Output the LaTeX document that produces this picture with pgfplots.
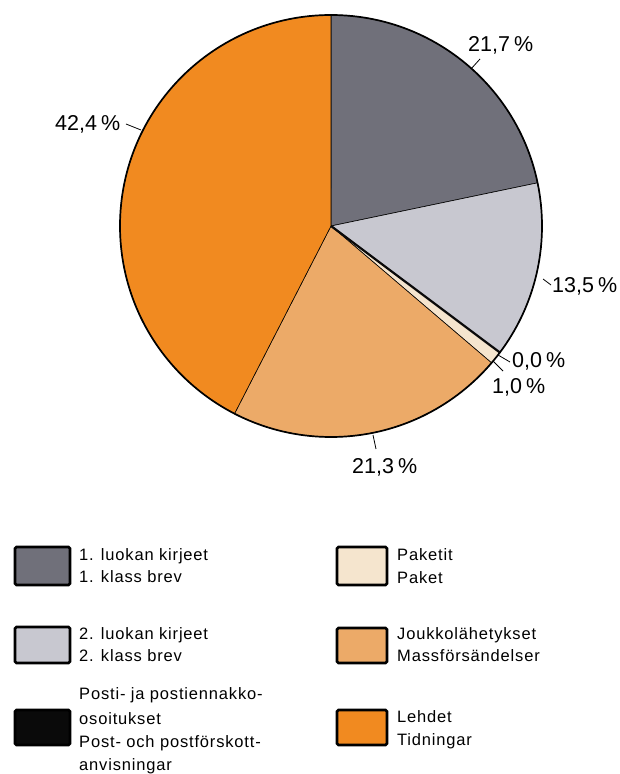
\documentclass[border=0pt]{standalone}
\usepackage{pgfplots}
\pgfplotsset{compat=1.18}
\usepackage{fontspec}
\setmainfont{Liberation Sans}
\newfontfamily\legfont[LetterSpace=5]{Liberation Sans}
\definecolor{cA}{RGB}{112,112,122}
\definecolor{cB}{RGB}{200,200,208}
\definecolor{cC}{RGB}{10,10,10}
\definecolor{cD}{RGB}{245,229,206}
\definecolor{cE}{RGB}{236,170,104}
\definecolor{cF}{RGB}{241,138,32}
\newcommand{\pc}{\hspace{4pt}\%}
\begin{document}
\begin{tikzpicture}[x=1pt,y=1pt]
\path[use as bounding box] (0,0) rectangle (620,774);
% shares in percent (1. luokka, 2. luokka, osoitukset, paketit, joukkol., lehdet)
\def\total{99.9}
\pgfmathsetmacro\aA{90}
\pgfmathsetmacro\aB{\aA-21.7/\total*360}
\pgfmathsetmacro\aC{\aB-13.5/\total*360}
\pgfmathsetmacro\aD{\aC-0.0/\total*360}
\pgfmathsetmacro\aE{\aD-1.0/\total*360}
\pgfmathsetmacro\aF{\aE-21.3/\total*360}
\pgfmathsetmacro\aG{\aF-42.4/\total*360}
\begin{axis}[at={(331pt,548pt)}, anchor=origin, x=211pt, y=211pt,
  xmin=-1, xmax=1, ymin=-1, ymax=1, hide axis, clip=false]
\addplot[fill=cA, draw=black, line width=0.6pt, domain=\aB:\aA, samples=90, variable=\t] ({cos(\t)},{sin(\t)}) -- (axis cs:0,0) -- cycle;
\addplot[fill=cB, draw=black, line width=0.6pt, domain=\aC:\aB, samples=60, variable=\t] ({cos(\t)},{sin(\t)}) -- (axis cs:0,0) -- cycle;
\addplot[fill=cD, draw=black, line width=0.6pt, domain=\aE:\aD, samples=10, variable=\t] ({cos(\t)},{sin(\t)}) -- (axis cs:0,0) -- cycle;
\addplot[fill=cE, draw=black, line width=0.6pt, domain=\aF:\aE, samples=90, variable=\t] ({cos(\t)},{sin(\t)}) -- (axis cs:0,0) -- cycle;
\addplot[fill=cF, draw=black, line width=0.6pt, domain=\aG:\aF, samples=150, variable=\t] ({cos(\t)},{sin(\t)}) -- (axis cs:0,0) -- cycle;
\addplot[cC, line width=2.2pt, domain=0:1, samples=2] ({x*cos(\aC)},{x*sin(\aC)});
\draw[line width=1.7pt] (axis cs:0,0) circle[radius=211pt];
\end{axis}
% labels
\begin{scope}[every node/.style={inner sep=0pt, font=\fontsize{21.5}{26}\selectfont}]
\node[anchor=base west] at (468,774-52) {21,7\pc};
\node[anchor=base west] at (55,774-131) {42,4\pc};
\node[anchor=base west] at (552,774-293) {13,5\pc};
\node[anchor=base west] at (512,774-368) {0,0\pc};
\node[anchor=base west] at (492,774-394) {1,0\pc};
\node[anchor=base west] at (352,774-474) {21,3\pc};
\end{scope}
\begin{scope}[line width=0.8pt]
\draw (480,774-59) -- (471,774-69);
\draw (126,774-124) -- (141,774-130);
\draw (543,774-279) -- (551,774-285);
\draw (373,774-435) -- (376,774-449);
\draw (498,774-355) -- (510,774-362);
\draw (493,774-361) -- (503,774-371);
\end{scope}
% legend
\begin{scope}[line width=2.6pt, rounded corners=1.5pt]
\filldraw[fill=cA] (15,774-547) rectangle (70,774-585);
\filldraw[fill=cB] (15,774-627) rectangle (70,774-663);
\filldraw[fill=cC] (15,774-710) rectangle (70,774-745);
\filldraw[fill=cD] (337,774-547) rectangle (387,774-585);
\filldraw[fill=cE] (337,774-628) rectangle (387,774-663);
\filldraw[fill=cF] (337,774-710) rectangle (387,774-745);
\end{scope}
\begin{scope}[every node/.style={inner sep=0pt, anchor=base west, font=\legfont\fontsize{16.5}{20}\selectfont}]
\node at (79,774-561) {1. luokan kirjeet};
\node at (79,774-583) {1. klass brev};
\node at (79,774-640) {2. luokan kirjeet};
\node at (79,774-662) {2. klass brev};
\node at (79,774-700) {Posti- ja postiennakko-};
\node at (79,774-725) {osoitukset};
\node at (79,774-748) {Post- och postförskott-};
\node at (79,774-771) {anvisningar};
\node at (397,774-561) {Paketit};
\node at (397,774-584) {Paket};
\node at (397,774-640) {Joukkolähetykset};
\node at (397,774-662) {Massförsändelser};
\node at (397,774-723) {Lehdet};
\node at (397,774-746) {Tidningar};
\end{scope}
\end{tikzpicture}
\end{document}
